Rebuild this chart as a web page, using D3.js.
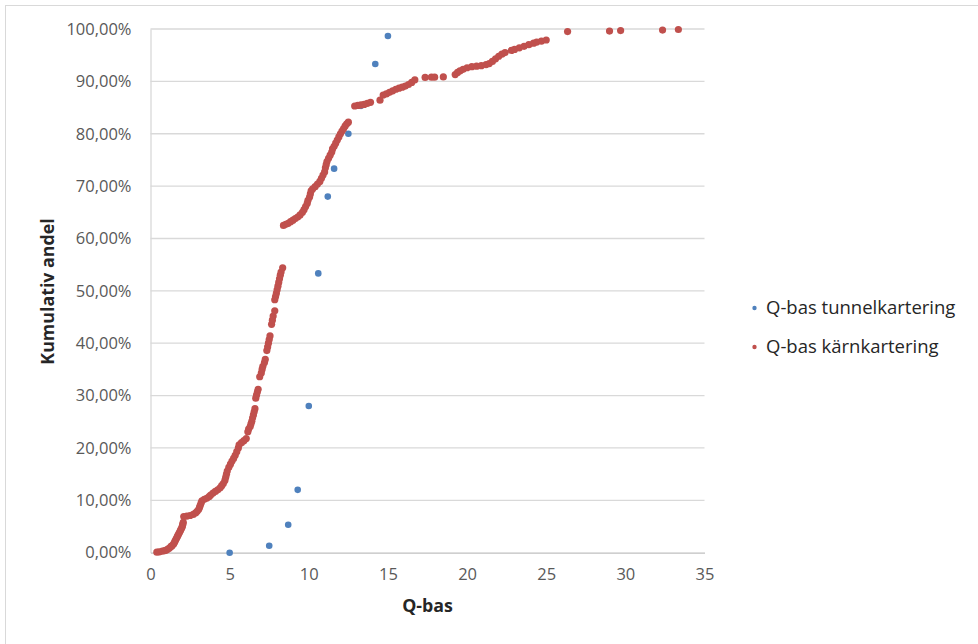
<!DOCTYPE html>
<html>
<head>
<meta charset="utf-8">
<script src="https://cdn.jsdelivr.net/npm/d3@7"></script>
<style>
  html, body { margin: 0; padding: 0; background: #fff; }
  svg { display: block; }
</style>
</head>
<body>
<svg id="chart" width="978" height="644"></svg>
<script>
// ---- Data (x = Q-bas, y = cumulative share in %) ----
const seriesNames = ["Q-bas tunnelkartering", "Q-bas kärnkartering"];

const tunnelX = [5.0, 7.5, 8.7, 9.3, 10.0, 10.6, 11.2, 11.6, 12.5, 13.3, 14.2, 15.0];
const tunnelY = [0.0, 1.33, 5.33, 12.0, 28.0, 53.33, 68.0, 73.33, 80.0, 85.33, 93.33, 98.67];

const coreX = [
  0.4, 0.55, 0.75, 0.9, 1.0, 1.1, 1.2, 1.3,
  1.35, 1.45, 1.5, 1.55, 1.6, 1.65, 1.7, 1.75, 1.8, 1.85, 1.9, 1.95, 2.0, 2.02, 2.05, 2.07,
  2.1, 2.3, 2.5, 2.7, 2.85, 2.95, 3.05,
  3.1, 3.15, 3.2, 3.25,
  3.4, 3.55, 3.7, 3.8,
  3.95, 4.1, 4.25, 4.4, 4.5, 4.6,
  4.7, 4.75, 4.8, 4.85,
  4.95, 5.05, 5.15, 5.25, 5.35, 5.45, 5.55,
  5.6, 5.75, 5.9, 6.05,
  6.15, 6.2, 6.3, 6.35, 6.4, 6.45, 6.5, 6.55, 6.6,
  6.65, 6.7, 6.75, 6.8,
  6.9, 7.0, 7.05, 7.1, 7.2, 7.25,
  7.35, 7.4, 7.45, 7.5, 7.55,
  7.65, 7.7, 7.75, 7.85,
  7.85, 7.9, 7.95, 8.0, 8.05, 8.1, 8.15, 8.2, 8.25, 8.35,
  8.4, 8.55, 8.7, 8.85, 9.0, 9.15, 9.3, 9.45, 9.6,
  9.7, 9.8, 9.9, 9.95, 10.05, 10.1, 10.15,
  10.25, 10.4, 10.55, 10.7, 10.8, 10.9, 11.0,
  11.05, 11.1, 11.15, 11.25, 11.35, 11.45, 11.5,
  11.6, 11.7, 11.8, 11.9, 12.0, 12.1, 12.2, 12.3, 12.4, 12.5,
  12.9, 13.1, 13.3, 13.5, 13.7, 13.9, 14.5,
  14.7, 14.9, 15.1, 15.3, 15.5, 15.7, 15.9, 16.1, 16.3, 16.5, 16.7,
  17.35, 17.75, 17.95, 18.5,
  19.25, 19.4, 19.55, 19.75, 20.0,
  20.3, 20.6, 20.9, 21.2, 21.4,
  21.6, 21.8, 22.0, 22.2, 22.4,
  22.8, 23.0, 23.3, 23.6, 23.9, 24.2, 24.4,
  24.7, 25.0,
  26.35, 29.0, 29.7, 32.35, 33.35
];
const coreY = [
  0.1, 0.15, 0.3, 0.4, 0.5, 0.7, 0.9, 1.2,
  1.3, 1.6, 1.9, 2.2, 2.5, 2.8, 3.1, 3.4, 3.7, 4.0, 4.3, 4.6, 4.9, 5.2, 5.5, 5.8,
  6.9, 7.0, 7.1, 7.3, 7.6, 7.9, 8.3,
  8.7, 9.1, 9.5, 9.9,
  10.2, 10.4, 10.7, 11.0,
  11.4, 11.7, 12.0, 12.4, 12.8, 13.2,
  13.8, 14.4, 15.0, 15.6,
  16.3, 16.9, 17.5, 18.0, 18.6, 19.3, 20.0,
  20.6, 21.0, 21.4, 21.8,
  23.1, 23.6, 24.1, 24.6, 25.1, 25.7, 26.3, 26.9, 27.5,
  29.5, 30.1, 30.7, 31.2,
  33.6, 34.3, 35.0, 35.6, 36.3, 36.9,
  38.6, 39.3, 40.0, 40.7, 41.4,
  43.6, 44.4, 45.2, 46.2,
  48.3, 48.9, 49.5, 50.2, 50.9, 51.6, 52.3, 53.0, 53.6, 54.4,
  62.5, 62.7, 62.9, 63.2, 63.5, 63.8, 64.1, 64.5, 65.0,
  65.5, 66.1, 66.7, 67.3, 67.9, 68.5, 69.1,
  69.5, 69.9, 70.4, 70.9, 71.5, 72.1, 72.7,
  73.5, 74.1, 74.7, 75.3, 75.9, 76.5, 77.1,
  77.6, 78.2, 78.8, 79.4, 80.0, 80.5, 81.0, 81.5, 81.9, 82.2,
  85.3, 85.4, 85.5, 85.6, 85.8, 86.0, 86.4,
  87.4, 87.6, 87.9, 88.2, 88.5, 88.7, 88.9, 89.1, 89.4, 89.8, 90.3,
  90.75, 90.8, 90.8, 90.85,
  91.3, 91.7, 92.0, 92.3, 92.6,
  92.8, 92.9, 93.0, 93.2, 93.4,
  93.8, 94.3, 94.8, 95.2, 95.5,
  95.9, 96.1, 96.4, 96.7, 97.0, 97.3, 97.5,
  97.7, 97.9,
  99.5, 99.6, 99.7, 99.8, 99.9
];

const xTicks = [0, 5, 10, 15, 20, 25, 30, 35];
const yTicks = [0, 10, 20, 30, 40, 50, 60, 70, 80, 90, 100];
const xTitle = "Q-bas";
const yTitle = "Kumulativ andel";
const colors = ["#4F81BD", "#C0504D"];

// ---- Layout ----
const svg = d3.select("#chart");
const plot = { left: 150.5, right: 704.5, top: 29, bottom: 552.7 };

const x = d3.scaleLinear().domain([0, 35]).range([plot.left, plot.right]);
const y = d3.scaleLinear().domain([0, 100]).range([plot.bottom, plot.top]);

const font = "'Open Sans', 'Noto Sans', sans-serif";

// outer chart border (only top/left visible in frame)
svg.append("rect")
  .attr("x", 5.5).attr("y", 5.5)
  .attr("width", 1200).attr("height", 1200)
  .attr("fill", "none").attr("stroke", "#D9D9D9").attr("stroke-width", 1);

// horizontal gridlines
svg.append("g").selectAll("line").data(yTicks.filter(d => d > 0)).join("line")
  .attr("x1", plot.left).attr("x2", plot.right)
  .attr("y1", d => y(d)).attr("y2", d => y(d))
  .attr("stroke", "#D9D9D9").attr("stroke-width", 1.3);

// y axis
const fmtPct = d => d3.format(".2f")(d).replace(".", ",") + "%";
const yAxis = svg.append("g")
  .attr("transform", `translate(${plot.left},0)`)
  .call(d3.axisLeft(y).tickValues(yTicks).tickSize(0).tickPadding(19).tickFormat(fmtPct));
yAxis.select(".domain").attr("stroke", "#D9D9D9").attr("stroke-width", 1.3);
yAxis.selectAll("text")
  .attr("font-family", font).attr("font-size", "16.5px").attr("fill", "#595959");

// x axis
const xAxis = svg.append("g")
  .attr("transform", `translate(0,${plot.bottom})`)
  .call(d3.axisBottom(x).tickValues(xTicks).tickSize(0).tickPadding(16).tickFormat(d3.format("d")));
xAxis.select(".domain").attr("stroke", "#BFBFBF").attr("stroke-width", 1.3);
xAxis.selectAll("text")
  .attr("font-family", font).attr("font-size", "16.5px").attr("fill", "#595959");

// axis titles
svg.append("text")
  .attr("x", (plot.left + plot.right) / 2).attr("y", 612)
  .attr("text-anchor", "middle")
  .attr("font-family", font).attr("font-weight", "bold").attr("font-size", "17.8px")
  .attr("fill", "#262626").text(xTitle);

svg.append("text")
  .attr("transform", `translate(54,291.5) rotate(-90)`)
  .attr("text-anchor", "middle")
  .attr("font-family", font).attr("font-weight", "bold").attr("font-size", "17.8px")
  .attr("fill", "#262626").text(yTitle);

// series
const tunnel = tunnelX.map((d, i) => ({ x: d, y: tunnelY[i] }));
const core = coreX.map((d, i) => ({ x: d, y: coreY[i] }));

svg.append("g").selectAll("circle").data(tunnel).join("circle")
  .attr("cx", d => x(d.x)).attr("cy", d => y(d.y)).attr("r", 3.3)
  .attr("fill", colors[0]);

svg.append("g").selectAll("circle").data(core).join("circle")
  .attr("cx", d => x(d.x)).attr("cy", d => y(d.y)).attr("r", 3.6)
  .attr("fill", colors[1]);

// legend
const legend = svg.append("g");
const legendRows = [308, 347];
seriesNames.forEach((name, i) => {
  legend.append("circle")
    .attr("cx", 754.5).attr("cy", legendRows[i]).attr("r", 2.2)
    .attr("fill", colors[i]);
  legend.append("text")
    .attr("x", 766).attr("y", legendRows[i]).attr("dy", "0.35em")
    .attr("font-family", font).attr("font-size", "18.5px").attr("fill", "#262626")
    .text(name);
});
</script>
</body>
</html>
